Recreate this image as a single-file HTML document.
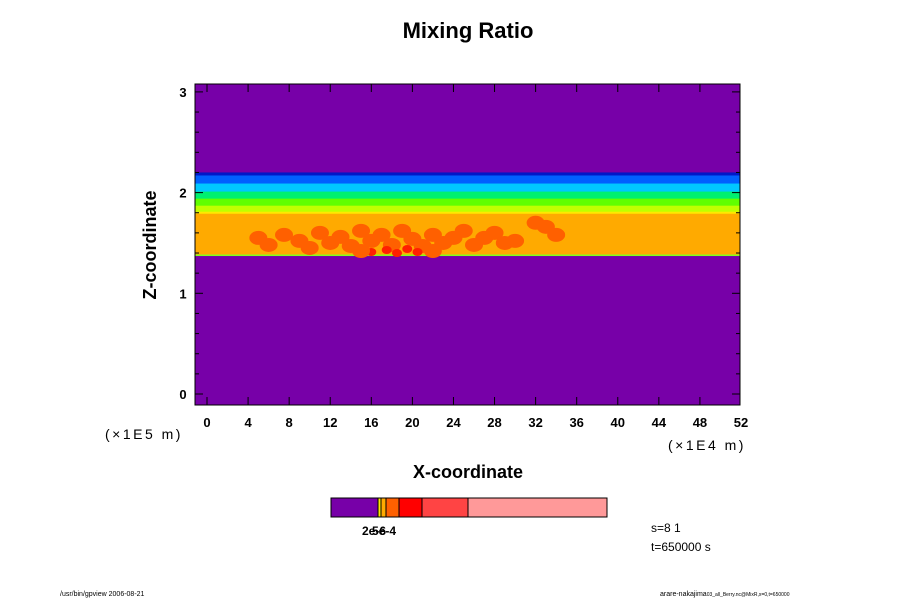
<!DOCTYPE html>
<html><head><meta charset="utf-8"><style>
body{margin:0;background:#fff;}
svg text{font-family:"Liberation Sans",sans-serif;}
</style></head><body>
<svg id="c" width="900" height="600" viewBox="0 0 900 600" xmlns="http://www.w3.org/2000/svg"></svg>
<script>
const xTicks=[0,4,8,12,16,20,24,28,32,36,40,44,48,52];
const yTicks=[0,1,2,3];
// band boundaries in z (x1E5 m) and colours, from top to bottom
const bandTops=[3.1,2.20,2.17,2.09,2.01,1.94,1.87,1.81,1.79,1.385,1.37];
const bandColors=['#7700a8','#0018c8','#0060ff','#00c8ff','#00f070','#60ff00','#c0ff00','#ffe800','#ffaa00','#80ff20','#7700a8'];
const blobX=[5,6,7.5,9,10,11,12,13,14,15,16,17,18,19,20,21,22,23,24,25,26,27,28,29,30,32,33,34,16,17.5,18.5,19.5,20.5,15,22];
const blobZ=[1.55,1.48,1.58,1.52,1.45,1.60,1.50,1.56,1.47,1.62,1.52,1.58,1.48,1.62,1.54,1.47,1.58,1.50,1.55,1.62,1.48,1.55,1.60,1.50,1.52,1.70,1.66,1.58,1.41,1.43,1.40,1.44,1.41,1.42,1.42];
const blobC=['#ff6000','#ff6000','#ff6000','#ff6000','#ff6000','#ff6000','#ff6000','#ff6000','#ff6000','#ff6000','#ff6000','#ff6000','#ff6000','#ff6000','#ff6000','#ff6000','#ff6000','#ff6000','#ff6000','#ff6000','#ff6000','#ff6000','#ff6000','#ff6000','#ff6000','#ff6000','#ff6000','#ff6000','#ff2000','#ff2000','#ff2000','#ff2000','#ff2000','#ff6000','#ff6000'];
const cbEdges=[331,378,381,386,399,422,468,607];
const cbColors=['#7700a8','#ffe800','#ffaa00','#ff6000','#ff0000','#ff4444','#ff9999'];
const ns='http://www.w3.org/2000/svg';
const svg=document.getElementById('c');
const L=195,R=740,T=84,B=405;
const X=v=>207+v*(741-207)/52;
const Y=v=>394-v*100.7;
function el(t,a,p){const e=document.createElementNS(ns,t);for(const k in a)e.setAttribute(k,a[k]);(p||svg).appendChild(e);return e;}
const clip=el('clipPath',{id:'pc'});el('rect',{x:L,y:T,width:R-L,height:B-T},clip);
const g=el('g',{'clip-path':'url(#pc)'});
for(let i=0;i<bandColors.length;i++){
 const top=Y(bandTops[i]);const bot=i+1<bandTops.length?Y(bandTops[i+1]):B;
 const r=el('rect',{x:L,y:top,width:R-L,height:Math.max(bot-top,0)+0.5,fill:bandColors[i]},g);
 
 
}
for(let i=0;i<blobX.length;i++){
 const e=el('ellipse',{cx:X(blobX[i]),cy:Y(blobZ[i]),rx:blobC[i]==='#ff2000'?5:9,ry:blobC[i]==='#ff2000'?4:7,fill:blobC[i]},g);
 
 
}
el('rect',{x:L,y:T,width:R-L,height:B-T,fill:'none',stroke:'#000','stroke-width':1});
xTicks.forEach(v=>{const x=X(v);
 if(x<R){el('line',{x1:x,y1:B,x2:x,y2:B-8,stroke:'#000'});el('line',{x1:x,y1:T,x2:x,y2:T+8,stroke:'#000'});}
 const t=el('text',{x:x,y:427,'text-anchor':'middle','font-size':13,'font-weight':'bold'});t.textContent=v;
 
 
});
yTicks.forEach(v=>{const y=Y(v);
 el('line',{x1:L,y1:y,x2:L+8,y2:y,stroke:'#000'});el('line',{x1:R,y1:y,x2:R-8,y2:y,stroke:'#000'});
 for(let k=1;k<5&&v<3;k++){const yy=Y(v+k*0.2);el('line',{x1:L,y1:yy,x2:L+4,y2:yy,stroke:'#000'});el('line',{x1:R,y1:yy,x2:R-4,y2:yy,stroke:'#000'});}
 const t=el('text',{x:183,y:y+5,'text-anchor':'middle','font-size':13,'font-weight':'bold'});t.textContent=v;
 
 
});
for(let i=0;i<cbColors.length;i++){
 const r=el('rect',{x:cbEdges[i],y:498,width:cbEdges[i+1]-cbEdges[i],height:19,fill:cbColors[i],stroke:'#000','stroke-width':1});
 
 
}
</script>
<svg width="900" height="600" style="position:absolute;left:0;top:0">
<text x="468" y="38" text-anchor="middle" font-size="22" font-weight="bold">Mixing Ratio</text>
<text x="156" y="245" text-anchor="middle" font-size="18" font-weight="bold" transform="rotate(-90 156 245)">Z-coordinate</text>
<text x="468" y="478" text-anchor="middle" font-size="18" font-weight="bold">X-coordinate</text>
<text x="105" y="439" font-size="14" letter-spacing="2.5">(×1E5 m)</text>
<text x="668" y="450" font-size="14" letter-spacing="2.5">(×1E4 m)</text>
<text x="362" y="535" font-size="12" font-weight="bold">2e-6</text>
<text x="372" y="535" font-size="12" font-weight="bold">5e-4</text>
<text x="651" y="532" font-size="12">s=8 1</text>
<text x="651" y="551" font-size="12">t=650000 s</text>
<text x="60" y="596" font-size="7">/usr/bin/gpview 2006-08-21</text>
<text x="660" y="596" font-size="7">arare-nakajima<tspan font-size="5">03_all_Berry.nc@MixR,x=0,t=650000</tspan></text>
</svg>
</body></html>
